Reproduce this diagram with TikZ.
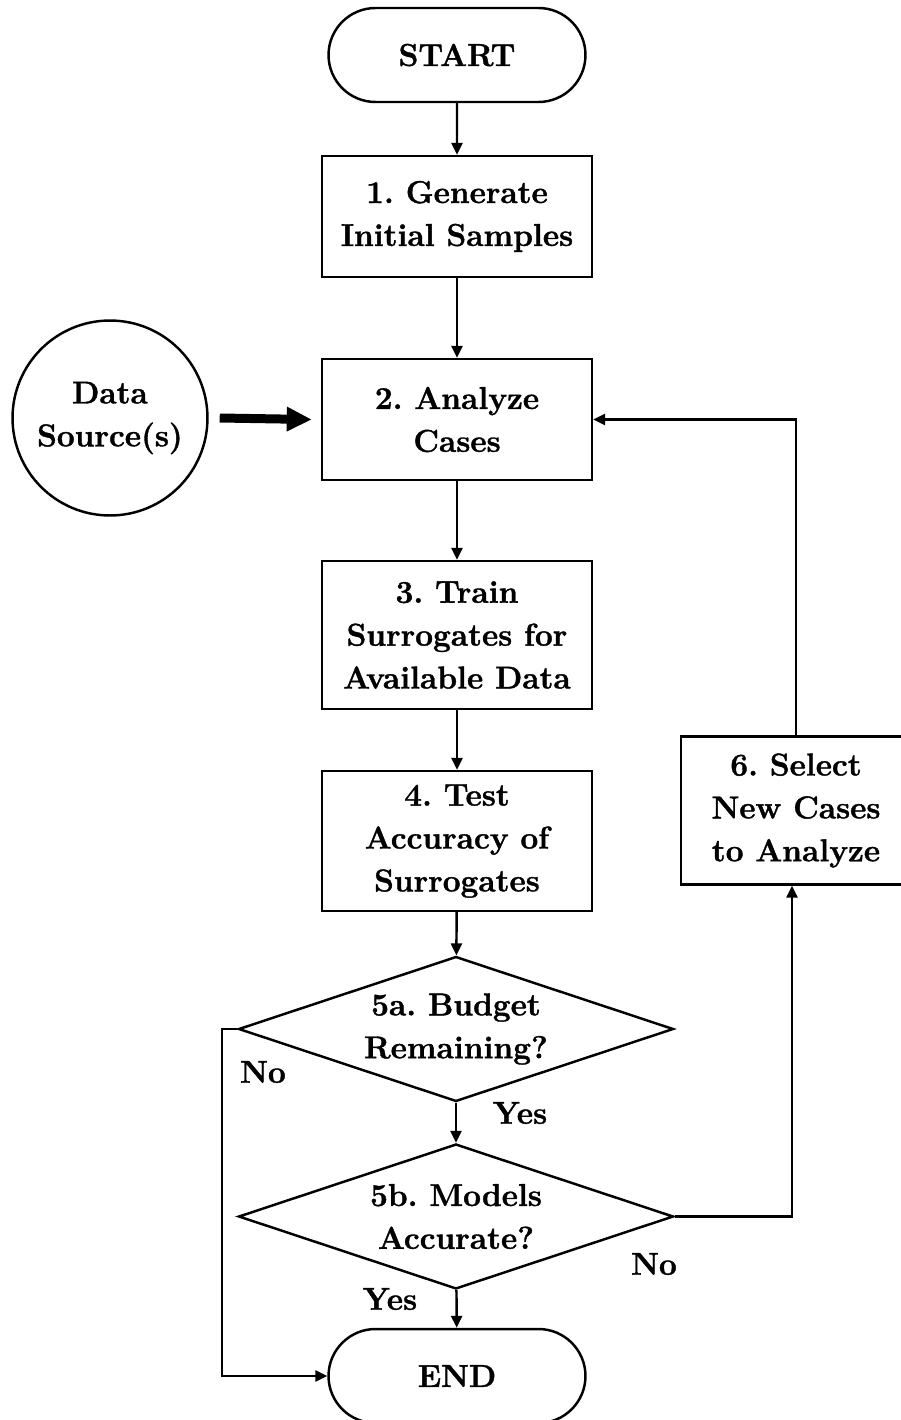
\documentclass[tikz,border=0pt]{standalone}
\usepackage{fontspec}
\setmainfont{Latin Modern Roman}[BoldFeatures={FakeBold=1.2}]
\usetikzlibrary{shapes.geometric,shapes.misc,arrows.meta}
\tikzset{
  every node/.style={font=\fontsize{18}{24.4}\selectfont\bfseries\frenchspacing, align=center, inner sep=0pt},
  procbox/.style={draw, line width=1.4pt, rectangle, minimum width=5.4cm},
  term/.style={draw, line width=1.4pt, rounded rectangle, minimum width=5.14cm, minimum height=1.88cm},
  decision/.style={draw, line width=1.4pt, diamond, shape aspect=2.94, minimum width=8.7cm, minimum height=2.9cm},
  source/.style={draw, line width=1.4pt, circle, minimum size=3.9cm},
  arr/.style={line width=1.4pt, -{Triangle[length=0.24cm,width=0.22cm]}},
  thickarr/.style={line width=0.18cm, -{Triangle[length=0.5cm,width=0.46cm]}},
  lbl/.style={}
}
\begin{document}
\begin{tikzpicture}[x=0.02cm,y=-0.02cm]
\useasboundingbox (0,0) rectangle (900,1420);
\node[term] (start) at (457,55) {START};
\node[procbox, minimum height=2.42cm] (b1) at (457,216.5) {1. Generate\\Initial Samples};
\node[procbox, minimum height=2.42cm] (b2) at (457,419.5) {2. Analyze\\Cases};
\node[procbox, minimum height=2.96cm] (b3) at (457,635) {3. Train\\Surrogates for\\Available Data};
\node[procbox, minimum height=2.8cm] (b4) at (457,841) {4. Test\\Accuracy of\\Surrogates};
\node[decision] (d5a) at (456,1029) {5a. Budget\\Remaining?};
\node[decision] (d5b) at (456,1216.5) {5b. Models\\Accurate?};
\node[term] (end) at (457,1376) {END};
\node[procbox, minimum width=4.6cm, minimum height=2.96cm] (b6) at (796,810.5) {6. Select\\New Cases\\to Analyze};
\node[source] (ds) at (110,418) {Data\\Source(s)};

\coordinate (nl) at (222,1029);
\coordinate (ny) at (792,1216.5);

\draw[arr] (start) -- (b1);
\draw[arr] (b1) -- (b2);
\draw[arr] (b2) -- (b3);
\draw[arr] (b3) -- (b4);
\draw[arr] (b4) -- (d5a);
\draw[arr] (d5a) -- (d5b);
\draw[arr] (d5b) -- (end);
\draw[arr] (d5a.west) -- (nl) |- (end.west);
\draw[arr] (d5b.east) -- (ny) -- (ny |- b6.south);
\draw[arr] (b6.north) |- (b2.east);
\draw[thickarr] ([xshift=0.22cm]ds.east) -- ([xshift=-0.18cm]b2.west);

\node[lbl] (no1) at (263,1072) {No};
\node[lbl] (yes1) at (520,1113) {Yes};
\node[lbl] (no2) at (654,1264) {No};
\node[lbl] (yes2) at (390,1299) {Yes};
\end{tikzpicture}
\end{document}
